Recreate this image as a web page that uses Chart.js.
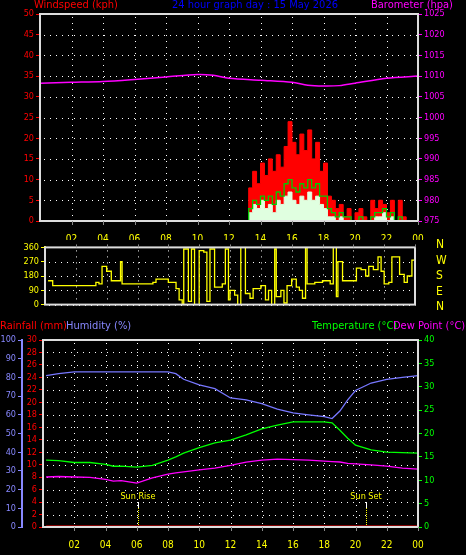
<!DOCTYPE html>
<html><head><meta charset="utf-8">
<script src="https://cdn.jsdelivr.net/npm/chart.js@4/dist/chart.umd.min.js"></script>
<style>
body{margin:0;background:#000;width:466px;height:555px;overflow:hidden;position:relative;font-family:"DejaVu Sans Condensed","DejaVu Sans",sans-serif}
canvas{position:absolute;left:0}
.t{position:absolute;font-size:11px;line-height:12px;white-space:nowrap}
</style></head><body>
<canvas id="c1" style="top:0px" width="466" height="240"></canvas>
<canvas id="c2" style="top:240px" width="466" height="72"></canvas>
<canvas id="c3" style="top:318px" width="466" height="237"></canvas>
<div class="t" style="left:34px;top:-1px;color:#f00">Windspeed (kph)</div>
<div class="t" style="left:172px;top:-1px;color:#00f">24 hour graph day : 15 May 2026</div>
<div class="t" style="left:371px;top:-1px;color:#f0f">Barometer (hpa)</div>
<div class="t" style="left:436px;top:237px;color:#ff0;font-size:12px;line-height:15.5px">N<br>W<br>S<br>E<br>N</div>
<div class="t" style="left:0px;top:320px;color:#f00">Rainfall (mm)</div>
<div class="t" style="left:66px;top:320px;color:#88f">Humidity (%)</div>
<div class="t" style="left:312px;top:320px;color:#0f0">Temperature (°C)</div>
<div class="t" style="left:393px;top:320px;color:#f0f">Dew Point (°C)</div>
<script>
const windHours=[0,13.25,13.5,13.75,14,14.25,14.5,14.75,15,15.25,15.5,15.75,16,16.25,16.5,16.75,17,17.25,17.5,17.75,18,18.25,18.5,18.75,19,19.25,19.5,19.75,20,20.25,20.5,20.75,21,21.25,21.5,21.75,22,22.25,22.5,22.75,23,23.25,23.5,24];
const windGust=[0,8,12,9,14,11,15,12,16,13,18,24,19,16,21,17,22,15,19,12,14,6,5,3,4,1,3,0,2,3,1,0,5,3,5,4,2,5,0,5,1,0,0,0];
const windAvg=[0,3,5,4,6,5,6,4,7,6,9,10,8,7,9,8,10,8,9,6,6,3,2,1,2,1,1,0,0,1,0,0,1,2,2,3,1,2,0,1,0,0,0,0];
const windLow=[0,2,4,3,5,3,4,2,5,4,6,7,5,4,6,5,7,5,6,4,3,1,1,0,1,0,0,0,0,0,0,0,0,1,1,2,0,1,0,0,0,0,0,0];
const baroHours=[0,2,4,6,8,10,11,12,14,16,17,18,19,20,22,24];
const baro=[1008.3,1008.5,1008.7,1009.2,1009.8,1010.4,1010.2,1009.5,1009,1008.5,1007.8,1007.6,1007.7,1008.3,1009.5,1010];
const dirHours=[0.2,0.5,1,2,3,3.3,3.5,3.7,4,4.3,4.9,5,6,7,7.2,8,8.5,8.7,8.9,9,9.3,9.5,9.7,10,10.3,10.5,10.7,11,11.5,11.7,11.9,12,12.3,12.5,12.7,13,13.3,13.5,14,14.3,14.5,14.7,14.9,15,15.3,15.5,15.7,16,16.3,16.5,16.7,16.9,17,17.5,18,18.5,18.7,18.9,19,19.3,20,20.2,20.5,20.8,21,21.3,21.6,21.8,22,22.3,22.5,23,23.3,23.5,23.8,24];
const windDir=[150,120,120,120,120,140,130,240,210,150,270,130,130,140,160,140,100,30,0,350,20,350,0,340,330,20,350,110,130,350,30,90,60,0,360,70,40,100,120,30,90,0,350,50,90,10,120,160,110,90,40,360,130,140,150,130,360,50,270,150,150,230,220,180,240,220,300,210,130,140,300,190,140,180,280,140];
const climHours=[0.2,1,2,3,4,4.5,5,6,7,8,8.5,9,10,11,12,13,14,15,16,17,18,18.5,19,19.5,20,21,22,23,24];
const humidity=[81,82,83,83,83,83,83,83,83,83,82,79,76,74,69,68,66,63,61,60,59,58,62,68,73,77,79,80,81];
const temperature=[14.3,14.2,13.8,13.8,13.4,13.0,13.0,12.8,13.2,14.3,15,15.8,17,18,18.6,19.7,21,21.8,22.5,22.5,22.5,22.3,20.7,19,17.5,16.5,16,15.9,15.8];
const dewPoint=[10.7,10.8,10.7,10.6,10.2,9.8,9.9,9.4,10.5,11.3,11.6,11.8,12.2,12.6,13.2,13.9,14.3,14.5,14.4,14.3,14.1,14,13.9,13.6,13.5,13.3,13,12.6,12.4];
const rainfall=[0,0,0,0,0,0,0,0,0,0,0,0,0,0,0,0,0,0,0,0,0,0,0,0,0,0,0,0,0];
const hourTicks=[2,4,6,8,10,12,14,16,18,20,22,24];
const sunEvents=[{h:6.1,label:'Sun Rise'},{h:20.7,label:'Sun Set'}];

const pts=(xs,ys)=>xs.map((x,i)=>({x,y:ys[i]}));
const FAM='"DejaVu Sans Condensed","DejaVu Sans",sans-serif';
const F={family:FAM,size:9};
function xAxis(){return {type:'linear',min:0,max:24,
  afterBuildTicks:s=>{s.ticks=[0,...hourTicks].map(v=>({value:v}));},
  ticks:{display:true,color:'#ff0',font:{family:FAM,size:10},autoSkip:false,maxRotation:0,padding:4,
    callback:v=>v===0?'':String(v%24).padStart(2,'0')},
  grid:{display:false},border:{display:false}};}
const frame={id:'frame',afterDraw(c){const a=c.chartArea,x=c.ctx;x.save();x.strokeStyle='#ddd';x.lineWidth=2;x.strokeRect(a.left,a.top,a.width,a.height);
  const xs=c.scales.x;x.strokeStyle='#888';x.lineWidth=1;const top=c.options.plugins.frame&&c.options.plugins.frame.top;
  hourTicks.forEach(v=>{const px=Math.round(xs.getPixelForValue(v))+0.5;x.beginPath();if(top){x.moveTo(px,a.top);x.lineTo(px,a.top-3);}else{x.moveTo(px,a.bottom);x.lineTo(px,a.bottom+4);}x.stroke();});
  x.restore();}};
const dotGrid={id:'dotGrid',beforeDatasetsDraw(c){const a=c.chartArea,x=c.ctx;x.save();x.fillStyle='#fff';
  const xs=c.scales.x, ys=c.scales[c.options.plugins.dotGrid.y];
  ys.ticks.forEach(t=>{const py=Math.round(ys.getPixelForValue(t.value));for(let px=a.left+4;px<a.right;px+=6)x.fillRect(px,py,1,1);});
  hourTicks.forEach(v=>{const px=Math.round(xs.getPixelForValue(v));for(let py=a.top+3;py<a.bottom;py+=6)x.fillRect(px,py,1,1);});
  x.restore();}};
function baseOpts(){return {responsive:false,animation:false,plugins:{legend:{display:false},tooltip:{enabled:false}},elements:{point:{radius:0}}};}
function yAx(pos,min,max,step,color,width,extra){return Object.assign({position:pos,min,max,ticks:{stepSize:step,color,font:F,padding:2,autoSkip:false,callback:v=>String(v)},
  grid:{display:true,drawOnChartArea:false,drawTicks:true,tickColor:color,tickLength:4,color:'rgba(0,0,0,0)'},border:{display:true,color,width:2},
  afterFit:s=>{s.width=width;}},extra||{});}

const o1=baseOpts();
o1.layout={padding:{top:14,bottom:0}};
o1.plugins.dotGrid={y:'yw'};
o1.scales={x:xAxis(),yw:yAx('left',0,50,5,'#f00',40),yb:yAx('right',975,1025,5,'#f0f',48)};
o1.scales.x.afterFit=s=>{s.height=19;};
new Chart(document.getElementById('c1'),{type:'line',options:o1,plugins:[dotGrid,frame],data:{datasets:[
 {data:pts(windHours,windAvg),yAxisID:'yw',borderColor:'#0c0',borderWidth:1.3,stepped:true,fill:false,order:1},
 {data:pts(windHours,windLow),yAxisID:'yw',borderColor:'#e0ffe0',backgroundColor:'#e0ffe0',borderWidth:1,stepped:true,fill:'origin',order:2},
 {data:pts(windHours,windGust),yAxisID:'yw',borderColor:'#f00',backgroundColor:'#f00',borderWidth:1,stepped:true,fill:'origin',order:3},
 {data:pts(baroHours,baro),yAxisID:'yb',borderColor:'#f0f',borderWidth:1.5,tension:0.3,order:0}
]}});
const o2=baseOpts();
o2.layout={padding:{top:3,bottom:4,right:51}};
o2.plugins.dotGrid={y:'yd'};
o2.plugins.frame={top:true};
o2.scales={x:Object.assign(xAxis(),{display:false}),yd:yAx('left',0,360,90,'#ff0',45)};
new Chart(document.getElementById('c2'),{type:'line',options:o2,plugins:[dotGrid,frame],data:{datasets:[
 {data:pts(dirHours,windDir),yAxisID:'yd',borderColor:'#ff0',borderWidth:1.3,stepped:true}
]}});

const sun={id:'sun',afterDatasetsDraw(c){const x=c.ctx,xs=c.scales.x,a=c.chartArea;x.save();x.font='9px '+FAM;x.textAlign='center';
  sunEvents.forEach(e=>{const px=Math.round(xs.getPixelForValue(e.h));x.fillStyle='#ff0';x.fillText(e.label,px,a.bottom-28);
   x.fillStyle='#fff';x.fillRect(px,a.bottom-25,1,6);x.fillStyle='#ff0';for(let py=a.bottom-19;py<a.bottom;py+=2)x.fillRect(px,py,1,1);});x.restore();}};
const o3=baseOpts();
o3.layout={padding:{top:22,bottom:0}};
o3.plugins.dotGrid={y:'yr'};
o3.scales={x:xAxis(),
 yr:yAx('left',0,30,2,'#f00',21),
 yh:yAx('left',0,100,10,'#88f',22),
 yt:yAx('right',0,40,5,'#0f0',48)};
o3.scales.x.afterFit=s=>{s.height=28;};
new Chart(document.getElementById('c3'),{type:'line',options:o3,plugins:[dotGrid,sun,frame],data:{datasets:[
 {data:pts(climHours,humidity),yAxisID:'yh',borderColor:'#77f',borderWidth:1.3},
 {data:pts(climHours,temperature),yAxisID:'yt',borderColor:'#0f0',borderWidth:1.3},
 {data:pts(climHours,dewPoint),yAxisID:'yt',borderColor:'#f0f',borderWidth:1.3},
 {data:pts(climHours,rainfall),yAxisID:'yr',borderColor:'#f00',borderWidth:3}
]}});
</script></body></html>
